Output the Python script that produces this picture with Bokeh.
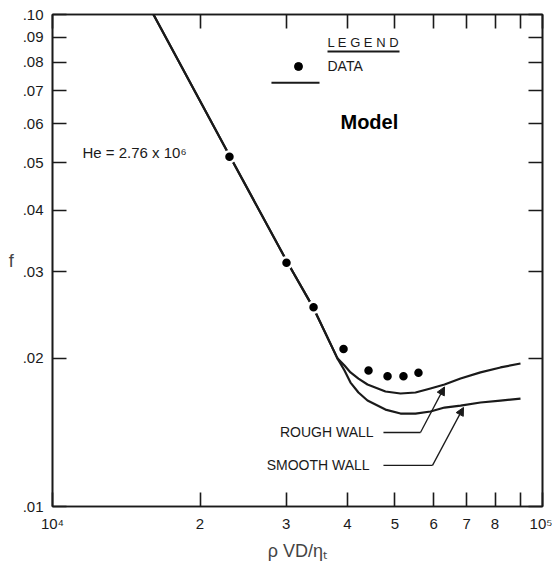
from bokeh.plotting import figure
from bokeh.models import Range1d, LogAxis, FixedTicker, Label, Arrow, NormalHead
from bokeh.embed import file_html
from bokeh.resources import INLINE

# ---- data ----
re_curve = [16070, 22970, 30030, 34100, 38150, 39440, 40570, 42110, 43940,
            47810, 51310, 55060, 59070, 63100, 68040, 74720, 82090, 90180]
f_rough = [0.100, 0.0517, 0.0316, 0.0253, 0.0200, 0.01935, 0.01873, 0.0182,
           0.0177, 0.01713, 0.01697, 0.01705, 0.01737, 0.0177, 0.0182,
           0.01873, 0.01917, 0.01953]
f_smooth = [0.100, 0.0517, 0.0316, 0.0253, 0.0200, 0.0189, 0.01786, 0.01705,
            0.01642, 0.01574, 0.01545, 0.01545, 0.0156, 0.01589, 0.01604,
            0.01627, 0.01642, 0.01657]

re_data = [22970, 30030, 34100, 39260, 44150, 48280, 52030, 55830]
f_data = [0.0514, 0.0313, 0.0254, 0.0209, 0.0189, 0.0184, 0.0184, 0.0187]

x_ticks = [1e4, 2e4, 3e4, 4e4, 5e4, 6e4, 7e4, 8e4, 9e4, 1e5]
x_tick_labels = ["10\u2074", "2", "3", "4", "5", "6", "7", "8", "", "10\u2075"]
y_ticks = [0.01, 0.02, 0.03, 0.04, 0.05, 0.06, 0.07, 0.08, 0.09, 0.10]
y_tick_labels = [".01", ".02", ".03", ".04", ".05", ".06", ".07", ".08", ".09", ".10"]

FONT = "Liberation Sans"
INK = "#1a1a1a"

p = figure(width=552, height=564, x_axis_type="log", y_axis_type="log",
           x_range=Range1d(1e4, 1e5), y_range=Range1d(0.01, 0.1),
           output_backend="svg", toolbar_location=None,
           min_border_left=52, min_border_right=10, min_border_top=14,
           min_border_bottom=58)
p.outline_line_color = INK
p.outline_line_width = 1.6
p.xgrid.visible = False
p.ygrid.visible = False
p.background_fill_color = "white"
p.border_fill_color = "white"


def style_axis(ax, ticks, labels, show_labels):
    ax.ticker = FixedTicker(ticks=ticks, minor_ticks=[])
    ax.major_label_overrides = {t: l for t, l in zip(ticks, labels)}
    ax.major_tick_in = 14
    ax.major_tick_out = 0
    ax.major_tick_line_width = 1.6
    ax.major_tick_line_color = INK
    ax.minor_tick_line_color = None
    ax.axis_line_color = INK
    ax.axis_line_width = 1.6
    ax.major_label_text_font = FONT
    ax.major_label_text_color = INK
    if show_labels:
        ax.major_label_text_font_size = "15px"
        ax.major_label_standoff = 8
    else:
        ax.major_label_text_font_size = "0px"
        ax.major_label_standoff = 0


style_axis(p.xaxis[0], x_ticks, x_tick_labels, True)
style_axis(p.yaxis[0], y_ticks, y_tick_labels, True)
p.yaxis[0].major_label_standoff = 9

p.xaxis[0].axis_label = "\u03c1 VD/\u03b7\u209c"
p.xaxis[0].axis_label_text_font = FONT
p.xaxis[0].axis_label_text_font_size = "18px"
p.xaxis[0].axis_label_text_font_style = "normal"
p.xaxis[0].axis_label_standoff = 6
p.yaxis[0].axis_label = "f"
p.yaxis[0].axis_label_text_font = FONT
p.yaxis[0].axis_label_text_font_size = "18px"
p.yaxis[0].axis_label_text_font_style = "normal"
p.yaxis[0].axis_label_standoff = 6
try:
    p.yaxis[0].axis_label_orientation = "horizontal"
except Exception:
    pass

top = LogAxis()
style_axis(top, x_ticks, [""] * len(x_ticks), False)
p.add_layout(top, "above")
right = LogAxis()
style_axis(right, y_ticks, [""] * len(y_ticks), False)
p.add_layout(right, "right")

# ---- curves ----
p.line(re_curve, f_rough, line_color=INK, line_width=2.2, line_join="round")
p.line(re_curve, f_smooth, line_color=INK, line_width=2.2, line_join="round")

# ---- data points (white halo breaks the line) ----
p.scatter(re_data, f_data, size=11, fill_color="black", line_color="white",
          line_width=2.5)

# ---- annotations ----
p.add_layout(Label(x=11510, y=0.0524, text="He = 2.76 x 10\u2076",
                   text_font=FONT, text_font_size="15px", text_color=INK,
                   text_baseline="middle"))

# legend block
p.add_layout(Label(x=36410, y=0.0877, text="L E G E N D", text_font=FONT,
                   text_font_size="13px", text_color=INK,
                   text_baseline="middle"))
p.line([36410, 51070], [0.0841, 0.0841], line_color=INK, line_width=2.0)
p.scatter([31770], [0.0784], size=8, fill_color="black", line_color="black")
p.add_layout(Label(x=36410, y=0.0784, text="DATA", text_font=FONT,
                   text_font_size="14px", text_color=INK,
                   text_baseline="middle"))
p.line([27980, 35070], [0.0727, 0.0727], line_color=INK, line_width=2.0)
p.add_layout(Label(x=38700, y=0.0605, text="Model", text_font=FONT,
                   text_font_size="20px", text_color="black",
                   text_font_style="bold", text_baseline="alphabetic"))

# wall labels + leaders
p.add_layout(Label(x=46050, y=0.01414, text="ROUGH  WALL", text_font=FONT,
                   text_font_size="14px", text_color=INK, text_align="right",
                   text_baseline="middle"))
p.add_layout(Label(x=45200, y=0.01212, text="SMOOTH  WALL", text_font=FONT,
                   text_font_size="14px", text_color=INK, text_align="right",
                   text_baseline="middle"))

p.line([47360, 56360], [0.01414, 0.01414], line_color=INK, line_width=1.3)
p.add_layout(Arrow(x_start=56360, y_start=0.01414, x_end=63100, y_end=0.0175,
                   line_color=INK, line_width=1.3,
                   end=NormalHead(size=8, fill_color=INK, line_color=INK)))
p.line([47360, 59640], [0.01212, 0.01212], line_color=INK, line_width=1.3)
p.add_layout(Arrow(x_start=59640, y_start=0.01212, x_end=68990, y_end=0.0159,
                   line_color=INK, line_width=1.3,
                   end=NormalHead(size=8, fill_color=INK, line_color=INK)))

open("out.html", "w").write(file_html(p, INLINE))
